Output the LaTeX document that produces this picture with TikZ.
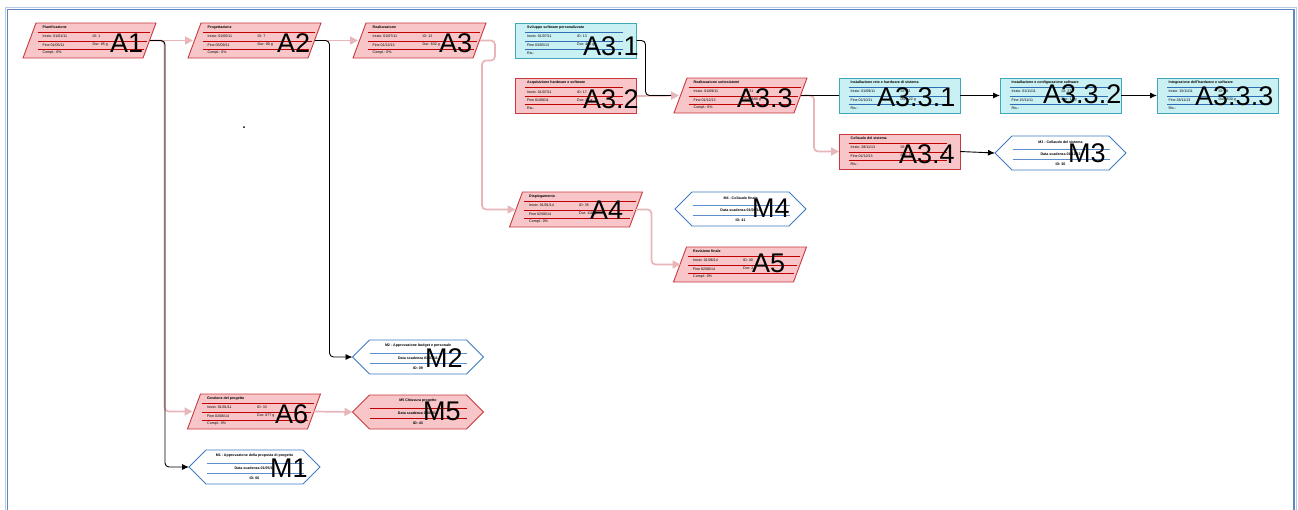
\documentclass[tikz,border=0pt]{standalone}
\usepackage{fontspec}
\setmainfont{Liberation Sans}
\usetikzlibrary{arrows.meta}
\definecolor{pinkfill}{HTML}{F8C6C8}
\definecolor{pinkedge}{HTML}{C8393E}
\definecolor{redln}{HTML}{C00000}
\definecolor{cyanfill}{HTML}{C9F0F3}
\definecolor{cyanedge}{HTML}{40A8B8}
\definecolor{blueln}{HTML}{2F6DB5}
\definecolor{msedge}{HTML}{3D7CC0}
\definecolor{msln}{HTML}{5B8FCC}
\definecolor{pinkc}{HTML}{E8B6B9}
\definecolor{frameblue}{HTML}{5F87C4}

\tikzset{
  holder/.style={inner sep=0pt, outer sep=0pt, draw=none},
  pinkshape/.style={fill=pinkfill, draw=pinkedge, line width=0.9pt},
  cyanshape/.style={fill=cyanfill, draw=cyanedge, line width=0.9pt},
  msshape/.style={fill=white, draw=msedge, line width=0.9pt},
  pinkline/.style={draw=redln, line width=0.8pt},
  cyanline/.style={draw=blueln, line width=0.8pt},
  msline/.style={draw=msln, line width=1pt},
  small/.style={font=\fontsize{3.6}{4}\selectfont, inner sep=0pt},
  smallb/.style={font=\fontsize{3.6}{4}\selectfont\bfseries, inner sep=0pt},
  biglabel/.style={font=\fontsize{27}{30}\selectfont, inner sep=0pt, anchor=base west},
  pinkflow/.style={draw=pinkc, line width=1.7pt, rounded corners=4pt},
  pinktip/.style={-{Triangle[length=8pt,width=8pt]}},
  blackflow/.style={draw=black, line width=0.9pt, rounded corners=4pt},
  blacktip/.style={-{Latex[length=7pt,width=6pt]}}
}

% parallelogram task: name, cx, cy, title, start, id, end, dur
\newcommand{\ParTask}[8]{%
  \node[holder, minimum width=133pt, minimum height=35pt] (#1) at (#2,#3) {};
  \draw[pinkshape] ({#2-53.5},{#3-17.5}) -- ({#2+66.5},{#3-17.5}) -- ({#2+53.5},{#3+17.5}) -- ({#2-66.5},{#3+17.5}) -- cycle;
  \draw[pinkline] ({#2-52},{#3-8.5}) -- ({#2+60},{#3-8.5});
  \draw[pinkline] ({#2-52},{#3+0.5}) -- ({#2+57},{#3+0.5});
  \draw[pinkline] ({#2-52},{#3+8.5}) -- ({#2+54},{#3+8.5});
  \node[smallb, anchor=west] (#1t) at ({#2-47},{#3-13}) {#4};
  \node[small, anchor=west] (#1s) at ({#2-47},{#3-4}) {Inizio: #5};
  \node[small, anchor=west] (#1i) at ({#2+3},{#3-4}) {ID: #6};
  \node[small, anchor=west] (#1f) at ({#2-47},{#3+4.5}) {Fine #7};
  \node[small, anchor=west] (#1d) at ({#2+3},{#3+4.5}) {Dur: #8};
  \node[small, anchor=west] (#1c) at ({#2-47},{#3+12.5}) {Compl.: 0\%};
}

% rectangle task: name, cx, cy, kind, title, start, id, end, dur
\newcommand{\RectTask}[9]{%
  \node[holder, minimum width=121pt, minimum height=35pt] (#1) at (#2,#3) {};
  \draw[#4shape] ({#2-60.5},{#3-17.5}) rectangle ({#2+60.5},{#3+17.5});
  \draw[#4line] ({#2-51},{#3-8.5}) -- ({#2+47},{#3-8.5});
  \draw[#4line] ({#2-51},{#3+0.5}) -- ({#2+47},{#3+0.5});
  \draw[#4line] ({#2-51},{#3+8.5}) -- ({#2+47},{#3+8.5});
  \node[smallb, anchor=west] (#1t) at ({#2-49},{#3-13}) {#5};
  \node[small, anchor=west] (#1s) at ({#2-49},{#3-4}) {Inizio: #6};
  \node[small, anchor=west] (#1i) at ({#2+1},{#3-4}) {ID: #7};
  \node[small, anchor=west] (#1f) at ({#2-49},{#3+4.5}) {Fine #8};
  \node[small, anchor=west] (#1d) at ({#2+1},{#3+4.5}) {Dur: #9};
  \node[small, anchor=west] (#1c) at ({#2-49},{#3+12.5}) {Ris.:};
}

% milestone hexagon: name, cx, cy, kind, title, date, id
\newcommand{\MileStone}[7]{%
  \node[holder, minimum width=131pt, minimum height=34pt] (#1) at (#2,#3) {};
  \draw[#4shape] ({#2-65.5},{#3}) -- ({#2-48.5},{#3-17}) -- ({#2+48.5},{#3-17}) -- ({#2+65.5},{#3}) -- ({#2+48.5},{#3+17}) -- ({#2-48.5},{#3+17}) -- cycle;
  \draw[#4line] ({#2-48},{#3-4}) -- ({#2+49},{#3-4});
  \draw[#4line] ({#2-48},{#3+6}) -- ({#2+49},{#3+6});
  \node[smallb] (#1t) at ({#2},{#3-11}) {#5};
  \node[smallb] (#1s) at ({#2},{#3+1.5}) {Data scadenza #6};
  \node[smallb] (#1i) at ({#2},{#3+11}) {ID: #7};
}

\begin{document}
\begin{tikzpicture}[x=1pt,y=-1pt]
\useasboundingbox (0,0) rectangle (1298,509);
\fill[white] (0,0) rectangle (1298,509);
\draw[frameblue!45, line width=1pt] (5,515) -- (5,7) -- (1296,7) -- (1296,515);
\draw[frameblue, line width=1.6pt] (7.5,515) -- (7.5,9.5) -- (1294,9.5) -- (1294,515);

% tasks
\ParTask{a1}{89.5}{40.5}{Pianificazione}{01/01/11}{1}{01/05/11}{85 g}
\ParTask{a2}{254.5}{40.5}{Progettazione}{01/05/11}{7}{05/09/11}{90 g}
\ParTask{a3}{419.5}{40.5}{Realizzazione}{01/07/11}{12}{01/12/13}{632 g}
\ParTask{a33}{740.5}{95.5}{Realizzazione sottosistemi}{01/09/11}{21}{01/12/13}{580 g}
\ParTask{a4}{576}{209.5}{Dispiegamento}{01/01/14}{35}{02/06/14}{110 g}
\ParTask{a5}{740}{264.5}{Revisione finale}{01/06/14}{40}{02/06/14}{2 g}
\ParTask{a6}{254}{411.5}{Gestione del progetto}{01/01/11}{33}{03/06/14}{877 g}

\RectTask{a31}{576}{40.5}{cyan}{Sviluppo software personalizzato}{01/07/11}{13}{03/05/13}{480 g}
\RectTask{a32}{576}{96}{pink}{Acquisizione hardware e software}{01/07/11}{17}{01/08/11}{22 g}
\RectTask{a331}{899.5}{95.5}{cyan}{Installazione rete e hardware di sistema}{01/09/11}{22}{01/10/11}{22 g}
\RectTask{a332}{1060.5}{95.5}{cyan}{Installazione e configurazione software}{01/11/11}{27}{15/11/11}{11 g}
\RectTask{a333}{1217.5}{95.5}{cyan}{Integrazione dell'hardware e software}{15/11/11}{28}{28/11/13}{530 g}
\RectTask{a34}{899.5}{151.5}{pink}{Collaudo del sistema}{28/11/13}{29}{01/12/13}{3 g}

% milestones
\MileStone{m1}{254.5}{467}{ms}{M1 - Approvazione della proposta di progetto}{01/05/11}{06}
\MileStone{m2}{418}{357}{ms}{M2 - Approvazione budget e personale}{01/07/11}{09}
\MileStone{m3}{1060.5}{153}{ms}{M3 - Collaudo del sistema}{01/12/13}{30}
\MileStone{m4}{740.5}{209}{ms}{M4 - Collaudo finale}{01/06/14}{41}
\MileStone{m5}{418}{412}{pink}{M5 Chiusura progetto}{03/06/14}{43}

% stray dot
\fill (244,127) circle (1pt);

% pink connectors
\draw[pinkflow, pinktip] ([xshift=-6pt]a1.east) -- ([xshift=5pt]a2.west);
\draw[pinkflow, pinktip] ([xshift=-6pt]a1.east) -| ([xshift=-23pt]a6.west) -- ([xshift=5pt]a6.west);
\draw[pinkflow, pinktip] ([xshift=-6pt]a2.east) -- ([xshift=5pt]a3.west);
\draw[pinkflow, pinktip] ([xshift=-6pt]a3.east) -- ++(15,0) -- ++(0,20) -- ++(-13,0) |- ([xshift=6pt]a4.west);
\draw[pinkflow, pinktip] (a32.east) -- ([xshift=5pt]a33.west);
\draw[pinkflow, pinktip] ([xshift=-6pt]a33.east) -- ++(13,0) |- (a34.west);
\draw[pinkflow, pinktip] ([xshift=-7pt]a4.east) -- ++(16,0) |- ([xshift=7pt]a5.west);
\draw[pinkflow, pinktip] ([xshift=-7pt]a6.east) -- (m5.west);

% black connectors
\draw[blackflow, blacktip] ([xshift=-6pt]a1.east) -| ([xshift=-24pt]m1.west) -- (m1.west);
\draw[blackflow, blacktip] ([xshift=-6pt]a2.east) -| ([xshift=-23pt]m2.west) -- (m2.west);
\draw[blackflow, shorten >=8pt] (a31.east) -- ++(9,0) |- ([xshift=5pt]a33.west);
\draw[blackflow] ([xshift=-6pt]a33.east) -- (a331.west);
\draw[blackflow, blacktip] (a331.east) -- (a332.west);
\draw[blackflow, blacktip] (a332.east) -- (a333.west);
\draw[blackflow, blacktip] (a34.east) -- (m3.west);

% big labels
\node[biglabel] (la1) at (110,52) {A1};
\node[biglabel] (la2) at (277,52) {A2};
\node[biglabel] (la3) at (439,52) {A3};
\node[biglabel] (la31) at (583,55) {A3.1};
\node[biglabel] (la32) at (583,108) {A3.2};
\node[biglabel] (la33) at (737,107) {A3.3};
\node[biglabel] (la331) at (877,106) {A3.3.1};
\node[biglabel] (la332) at (1043,103) {A3.3.2};
\node[biglabel] (la333) at (1195,105) {A3.3.3};
\node[biglabel] (la34) at (899,163) {A3.4};
\node[biglabel] (lm3) at (1068,162) {M3};
\node[biglabel] (la4) at (590,219) {A4};
\node[biglabel] (lm4) at (752,217) {M4};
\node[biglabel] (la5) at (752,272) {A5};
\node[biglabel] (lm2) at (425,367) {M2};
\node[biglabel] (lm5) at (423,420) {M5};
\node[biglabel] (la6) at (275,423) {A6};
\node[biglabel] (lm1) at (270,477) {M1};
\end{tikzpicture}
\end{document}
